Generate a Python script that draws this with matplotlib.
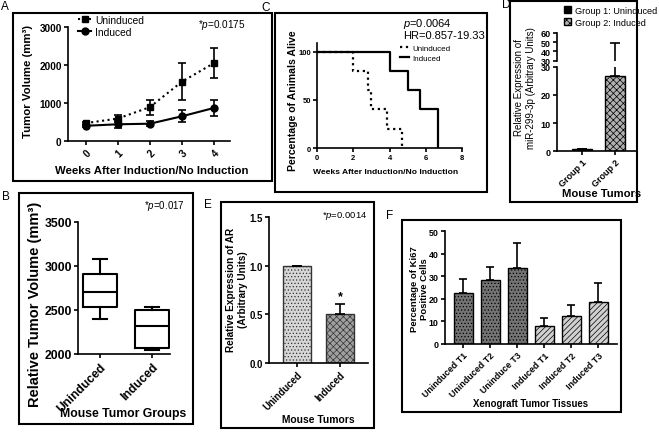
import matplotlib
matplotlib.use('Agg')
import matplotlib.pyplot as plt
from matplotlib.patches import Rectangle, Patch
from matplotlib.lines import Line2D

plt.rcParams['font.family'] = ['Liberation Sans', 'DejaVu Sans']
plt.rcParams['font.weight'] = 'bold'
plt.rcParams['axes.labelweight'] = 'bold'
plt.rcParams['mathtext.fontset'] = 'custom'
plt.rcParams['mathtext.rm'] = 'Liberation Sans:weight=normal'
plt.rcParams['mathtext.it'] = 'Liberation Sans:style=italic:weight=normal'
plt.rcParams['hatch.linewidth'] = 0.5

# A: tumor growth curves
weeks = [0, 1, 2, 3, 4]
growth_unind = [470, 590, 890, 1560, 2050]
growth_unind_err = [40, 100, 200, 480, 400]
growth_ind = [400, 440, 455, 650, 870]
growth_ind_err = [40, 90, 60, 160, 200]

# B: relative tumor volume box plot
box_groups = ['Uninduced', 'Induced']
box_whislo = [2400, 2050]
box_q1 = [2530, 2065]
box_med = [2710, 2320]
box_q3 = [2910, 2500]
box_whishi = [3085, 2530]

# C: survival curves
surv_unind_t = [0, 2, 2.8, 3.0, 3.85, 4.7]
surv_unind = [100, 80, 60, 40, 20, 0]
surv_ind_t = [0, 4, 5, 5.7, 6.7]
surv_ind = [100, 80, 60, 40, 0]

# D: miR-299-3p expression
mir_groups = ['Group 1', 'Group 2']
mir_legend = ['Group 1: Uninduced', 'Group 2: Induced']
mir_vals = [0.8, 26.8]
mir_err = [0, 22]

# E: AR expression
ar_groups = ['Uninduced', 'Induced']
ar_vals = [1.0, 0.5]
ar_err = [0, 0.11]

# F: Ki67 positive cells
ki_groups = ['Uninduced T1', 'Uninduced T2', 'Uninduce T3',
             'Induced T1', 'Induced T2', 'Induced T3']
ki_vals = [22.6, 28.5, 33.5, 8.1, 12.4, 18.7]
ki_err = [6.1, 5.5, 11.1, 3.2, 4.8, 8.1]

W, H = 659, 435
fig = plt.figure(figsize=(W / 100, H / 100), dpi=100)
fig.patch.set_facecolor('white')


def fx(x):
    return x / W


def fy(y):
    return 1 - y / H


def add_ax(x0, y0, x1, y1):
    return fig.add_axes([fx(x0), fy(y1), (x1 - x0) / W, (y1 - y0) / H])


def frame(x0, y0, x1, y1):
    fig.patches.append(Rectangle((fx(x0), fy(y1)), (x1 - x0) / W, (y1 - y0) / H,
                                 transform=fig.transFigure, fill=False, lw=1.5, ec='black'))


def style(ax, fs):
    ax.spines['top'].set_visible(False)
    ax.spines['right'].set_visible(False)
    ax.spines['left'].set_linewidth(1.2)
    ax.spines['bottom'].set_linewidth(1.2)
    ax.tick_params(width=1.2, length=3, labelsize=fs, pad=1.5)


def rot_xticks(ax):
    plt.setp(ax.get_xticklabels(), rotation=45, ha='right', rotation_mode='anchor')


def xlabel_at(ax, text, cx, top, fs):
    ax.set_xlabel(text, fontsize=fs)
    ax.xaxis.set_label_coords(fx(cx), fy(top), transform=fig.transFigure)


def ylabel_at(ax, text, right, cy, fs, weight='bold'):
    ax.set_ylabel(text, fontsize=fs, fontweight=weight, multialignment='center')
    ax.yaxis.set_label_coords(fx(right), fy(cy), transform=fig.transFigure)


def letter(x, y, s):
    fig.text(fx(x), fy(y), s, fontsize=8.5, fontweight='normal', va='top', ha='left')


def note(x, y, s, fs, ha='right'):
    fig.text(fx(x), fy(y), s, fontsize=fs, fontweight='normal', ha=ha, va='center')


# panel frames
frame(13, 14, 272, 182)
frame(275, 14, 487, 193)
frame(510, 2, 637, 203)
frame(19, 194, 193, 425)
frame(221, 203, 374, 429)
frame(402, 221, 621, 413)

letter(1, 1, 'A')
letter(2, 191, 'B')
letter(261, 2, 'C')
letter(502, -1, 'D')
letter(204, 199, 'E')
letter(386, 210, 'F')

# ---- A ----
axA = add_ax(68, 28, 230, 142)
axA.errorbar(weeks, growth_unind, yerr=growth_unind_err, fmt='s:', color='black', ms=5,
             lw=1.5, capsize=3, capthick=1.2, elinewidth=1.2)
axA.errorbar(weeks, growth_ind, yerr=growth_ind_err, fmt='o-', color='black', ms=5,
             lw=1.5, capsize=3, capthick=1.2, elinewidth=1.2)
axA.set_xlim(-0.55, 4.5)
axA.set_ylim(0, 3000)
axA.set_yticks([0, 1000, 2000, 3000])
axA.set_xticks(weeks)
style(axA, 7.2)
rot_xticks(axA)
ylabel_at(axA, 'Tumor Volume (mm³)', 33, 81, 8.2)
xlabel_at(axA, 'Weeks After Induction/No Induction', 152, 166, 8.2)
handlesA = [Line2D([], [], color='black', ls=':', marker='s', ms=5, lw=1.5),
            Line2D([], [], color='black', ls='-', marker='o', ms=5, lw=1.5)]
axA.legend(handlesA, ['Uninduced', 'Induced'], loc='upper left',
           bbox_to_anchor=(fx(78), fy(16)), bbox_transform=fig.transFigure,
           frameon=False, prop={'size': 7.4, 'weight': 'normal'}, handlelength=1.3,
           handletextpad=0.4, labelspacing=0.15, borderpad=0, borderaxespad=0)
note(245, 25, '*$\\mathit{p}$=0.0175', 7.2)

# ---- B ----
axB = add_ax(78, 223, 170, 355)
statsB = [dict(label=g, whislo=lo, q1=a, med=m, q3=b, whishi=hi)
          for g, lo, a, m, b, hi in zip(box_groups, box_whislo, box_q1, box_med, box_q3, box_whishi)]
lp = dict(color='black', lw=1.5)
axB.bxp(statsB, positions=[0, 1], widths=0.65, showfliers=False, boxprops=lp,
        whiskerprops=lp, capprops=lp, medianprops=lp, capwidths=0.28)
axB.set_xlim(-0.423, 1.346)
axB.set_ylim(2000, 3500)
axB.set_yticks([2000, 2500, 3000, 3500])
style(axB, 8.8)
rot_xticks(axB)
ylabel_at(axB, 'Relative Tumor Volume (mm³)', 42, 304, 10.5)
xlabel_at(axB, 'Mouse Tumor Groups', 123, 408, 8.8)
note(185, 206, '*$\\mathit{p}$=0.017', 7)

# ---- C ----
axC = add_ax(317, 44, 462, 149)
axC.step(surv_unind_t, surv_unind, where='post', ls=':', lw=1.6, color='black')
axC.step(surv_ind_t, surv_ind, where='post', ls='-', lw=1.6, color='black')
axC.set_xlim(0, 8)
axC.set_ylim(0, 109)
axC.set_xticks([0, 2, 4, 6, 8])
axC.set_yticks([0, 50, 100])
style(axC, 5.5)
axC.tick_params(axis='y', pad=1)
ylabel_at(axC, 'Percentage of Animals Alive', 298, 101, 7.6)
xlabel_at(axC, 'Weeks After Induction/No Induction', 386, 169, 6.1)
handlesC = [Line2D([], [], color='black', ls=':', lw=1.6),
            Line2D([], [], color='black', ls='-', lw=1.6)]
axC.legend(handlesC, ['Uninduced', 'Induced'], loc='upper left',
           bbox_to_anchor=(fx(400), fy(45)), bbox_transform=fig.transFigure,
           frameon=False, prop={'size': 5.8, 'weight': 'normal'}, handlelength=1.1,
           handletextpad=0.4, labelspacing=0.35, borderpad=0, borderaxespad=0)
note(403, 24, '$\\mathit{p}$=0.0064', 8, ha='left')
note(403, 36, 'HR=0.857-19.33', 8, ha='left')

# ---- D (broken y axis) ----
axD = add_ax(557, 68, 637, 152)
axD2 = add_ax(557, 33.7, 637, 61.7)
for ax in (axD, axD2):
    bars = ax.bar(range(len(mir_vals)), mir_vals, width=0.6, color=['black', '#b0b0b0'],
                  edgecolor='black', lw=1)
    bars[1].set_hatch('xxxxx')
    ax.errorbar(range(len(mir_vals)), mir_vals, yerr=[[0] * len(mir_err), mir_err], fmt='none',
                ecolor='black', elinewidth=1.2, capsize=3.5, capthick=1.2)
    ax.set_xlim(-0.76, 1.67)
    style(ax, 6.5)
axD.set_ylim(0, 30)
axD.set_yticks([0, 10, 20, 30])
axD.set_xticks(range(len(mir_groups)))
axD.set_xticklabels(mir_groups)
rot_xticks(axD)
axD2.set_ylim(30, 60)
axD2.set_yticks([30, 40, 50, 60])
axD2.spines['bottom'].set_visible(False)
axD2.set_xticks([])
ylabel_at(axD, 'Relative Expression of\nmiR-299-3p (Arbitrary Units)', 536, 88, 7, weight='normal')
xlabel_at(axD, 'Mouse Tumors', 602, 189, 8.1)
handlesD = [Patch(facecolor='black', edgecolor='black'),
            Patch(facecolor='#b0b0b0', edgecolor='black', hatch='xxxxx')]
axD.legend(handlesD, mir_legend, loc='upper left',
           bbox_to_anchor=(fx(564), fy(7)), bbox_transform=fig.transFigure,
           frameon=False, prop={'size': 6.6, 'weight': 'normal'}, handlelength=0.8,
           handleheight=0.8, handletextpad=0.4, labelspacing=0.3, borderpad=0,
           borderaxespad=0)

# ---- E ----
axE = add_ax(269, 218, 368, 364)
barsE = axE.bar(range(len(ar_vals)), ar_vals, width=0.63, color=['#d6d6d6', '#a0a0a0'],
                edgecolor='#333333', lw=1)
barsE[0].set_hatch('.....')
barsE[1].set_hatch('xxxxx')
axE.errorbar(range(len(ar_vals)), ar_vals, yerr=[[0] * len(ar_err), ar_err], fmt='none',
             ecolor='black', elinewidth=1.2, capsize=3.5, capthick=1.2)
axE.text(1, ar_vals[1] + ar_err[1] + 0.02, '*', ha='center', va='bottom', fontsize=9)
axE.set_xlim(-0.65, 1.65)
axE.set_ylim(0, 1.5)
axE.set_yticks([0, 0.5, 1.0, 1.5])
axE.set_yticklabels(['0.0', '0.5', '1.0', '1.5'])
axE.set_xticks(range(len(ar_groups)))
axE.set_xticklabels(ar_groups)
style(axE, 6.9)
rot_xticks(axE)
ylabel_at(axE, 'Relative Expression of AR\n(Arbitrary Units)', 248, 290, 7.2)
xlabel_at(axE, 'Mouse Tumors', 318, 415, 7.4)
note(367, 216, '*$\\mathit{p}$=0.0014', 6.8)

# ---- F ----
axF = add_ax(445, 232, 617, 345)
barsF = axF.bar(range(len(ki_vals)), ki_vals, width=0.7, edgecolor='black', lw=1)
for i, b in enumerate(barsF):
    if i < 3:
        b.set_facecolor('#737373')
        b.set_hatch('.....')
    else:
        b.set_facecolor('#d0d0d0')
        b.set_hatch('//////')
axF.errorbar(range(len(ki_vals)), ki_vals, yerr=[[0] * len(ki_err), ki_err], fmt='none',
             ecolor='black', elinewidth=1.2, capsize=3, capthick=1.2)
axF.set_xlim(-0.67, 5.7)
axF.set_ylim(0, 50)
axF.set_yticks([0, 10, 20, 30, 40, 50])
axF.set_xticks(range(len(ki_groups)))
axF.set_xticklabels(ki_groups)
style(axF, 6.4)
rot_xticks(axF)
ylabel_at(axF, 'Percentage of Ki67\nPositive Cells', 429, 289, 6.8)
xlabel_at(axF, 'Xenograft Tumor Tissues', 531, 399, 6.9)

fig.savefig('out.png', dpi=100, facecolor='white')
